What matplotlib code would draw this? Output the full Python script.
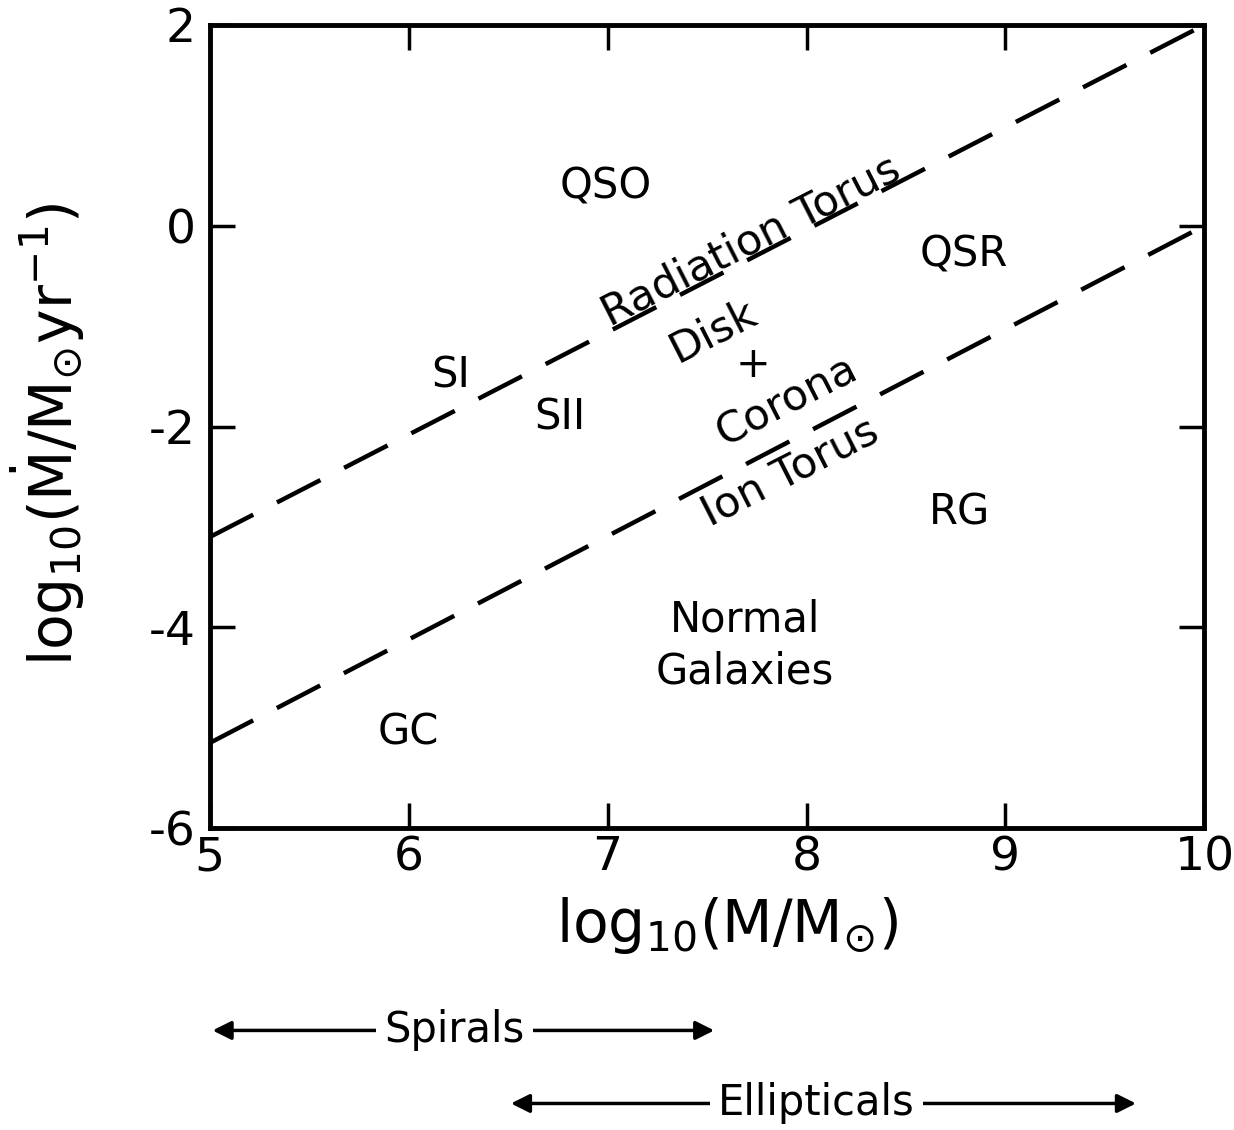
import numpy as np
import matplotlib.pyplot as plt

plt.rcParams['font.family'] = ['DejaVu Sans']
plt.rcParams['mathtext.default'] = 'regular'
plt.rcParams['axes.unicode_minus'] = False

# boundary lines (log10 M, log10 Mdot)
mass = [5, 10]
rad_torus = [-3.1, 2.0]
ion_torus = [-5.15, 0.0]

x_ticks = [5, 6, 7, 8, 9, 10]
y_ticks = [-6, -4, -2, 0, 2]

# region labels: text, x, y, rotation
labels = [
    ('QSO', 6.99, 0.39, 0),
    ('QSR', 8.79, -0.29, 0),
    ('SI', 6.21, -1.49, 0),
    ('SII', 6.76, -1.91, 0),
    ('RG', 8.77, -2.86, 0),
    ('Normal\nGalaxies', 7.69, -4.18, 0),
    ('GC', 6.0, -5.05, 0),
    ('Radiation Torus', 7.72, -0.15, 27),
    ('Disk', 7.53, -1.05, 27),
    ('+', 7.73, -1.39, 0),
    ('Corona', 7.9, -1.75, 27),
    ('Ion Torus', 7.92, -2.45, 27),
]

# galaxy type ranges (log10 M)
spirals = [5.0, 7.55]
ellipticals = [6.5, 9.67]

fig = plt.figure(figsize=(12.34, 11.30), dpi=100)
ax = fig.add_axes([0.170, 0.267, 0.806, 0.711])

ax.plot(mass, rad_torus, color='black', lw=3.2, dashes=(11, 6))
ax.plot(mass, ion_torus, color='black', lw=3.2, dashes=(11, 6))

for txt, x, y, rot in labels:
    ax.text(x, y, txt, fontsize=31 if rot else 30, ha='center', va='center',
            rotation=rot, rotation_mode='anchor', linespacing=1.3)

ax.set_xlim(5, 10)
ax.set_ylim(-6, 2)
ax.set_xticks(x_ticks)
ax.set_yticks(y_ticks)
ax.tick_params(direction='in', length=18, width=2.5, labelsize=34,
               top=True, right=True)
ax.tick_params(axis='x', pad=5)
ax.tick_params(axis='y', pad=10)
for s in ax.spines.values():
    s.set_linewidth(3.5)

ax.set_xlabel(r'$log_{10}(M/M_{\odot})$', fontsize=42)
ax.xaxis.set_label_coords(0.52, -0.083)
ax.set_ylabel(r'$log_{10}(\dot{M}/M_{\odot}yr^{-1})$', fontsize=42)
ax.yaxis.set_label_coords(-0.123, 0.49)

# arrows under the plot
tr = ax.get_xaxis_transform()
for (x0, x1), name, xm, yy in [(spirals, 'Spirals', 6.23, -0.2516),
                               (ellipticals, 'Ellipticals', 8.05, -0.3425)]:
    ax.text(xm, yy, name, transform=tr, fontsize=30, ha='center', va='center',
            clip_on=False, zorder=3,
            bbox=dict(facecolor='white', edgecolor='none', pad=6))
    ax.annotate('', xy=(x0, yy), xytext=(x1, yy), xycoords=tr, textcoords=tr,
                arrowprops=dict(arrowstyle='<|-|>', color='black', lw=2.5,
                                mutation_scale=28), annotation_clip=False, zorder=1)

fig.savefig('out.png', dpi=100)
